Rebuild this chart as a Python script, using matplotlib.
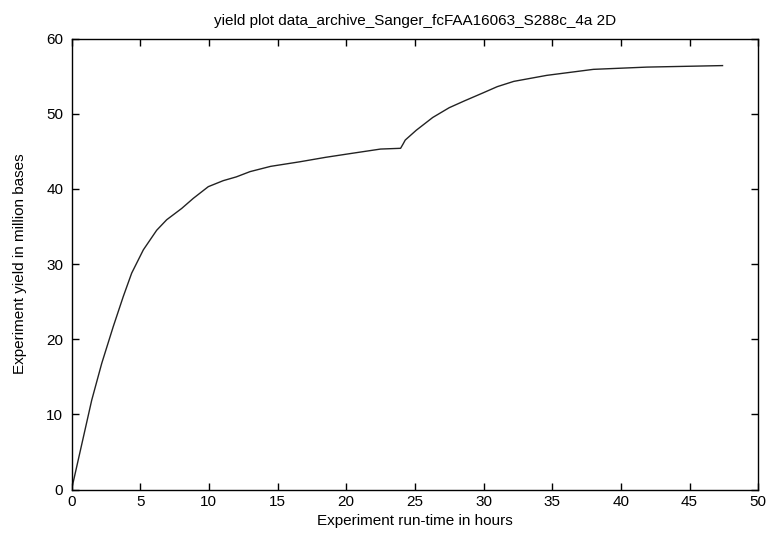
import matplotlib
matplotlib.use("Agg")
import matplotlib.pyplot as plt

# run time (hours) and cumulative yield (million bases)
hours = [0, 1.47, 2.2, 3.04, 3.77, 4.38, 5.23, 6.2, 6.93, 8.02, 8.87, 9.96,
         11.05, 12.0, 13.0, 14.5, 16.6, 18.5, 20.3, 22.5, 23.96, 24.15, 24.3,
         25.1, 26.3, 27.5, 28.6, 30.0, 31.0, 32.2, 34.6, 38.0, 41.9, 47.4]
yield_mb = [0, 11.9, 16.8, 21.7, 25.7, 28.8, 31.9, 34.5, 35.9, 37.4, 38.75, 40.3,
            41.1, 41.6, 42.3, 43.0, 43.6, 44.2, 44.7, 45.3, 45.4, 46.0, 46.5,
            47.8, 49.5, 50.8, 51.7, 52.8, 53.6, 54.3, 55.1, 55.9, 56.2, 56.4]

plt.rcParams['font.family'] = ['Liberation Sans', 'DejaVu Sans']

fig = plt.figure(figsize=(7.69, 5.38), dpi=100)
ax = fig.add_axes([0.093, 0.0898, 0.893, 0.8386])

ax.plot(hours, yield_mb, color='#222222', lw=1.0)

ax.set_xlim(0, 50)
ax.set_ylim(0, 60)
ax.set_xticks(range(0, 51, 5))
ax.set_yticks(range(0, 61, 10))
ax.tick_params(direction='in', top=True, right=True, length=5, width=1,
               labelsize=11)
ax.tick_params(axis='y', pad=6)
for s in ax.spines.values():
    s.set_linewidth(1)

ax.set_title('yield plot data_archive_Sanger_fcFAA16063_S288c_4a 2D',
             fontsize=11, pad=10)
ax.set_xlabel('Experiment run-time in hours', fontsize=11, labelpad=4)
ax.set_ylabel('Experiment yield in million bases', fontsize=11, labelpad=14)

fig.savefig('out.png', dpi=100)
